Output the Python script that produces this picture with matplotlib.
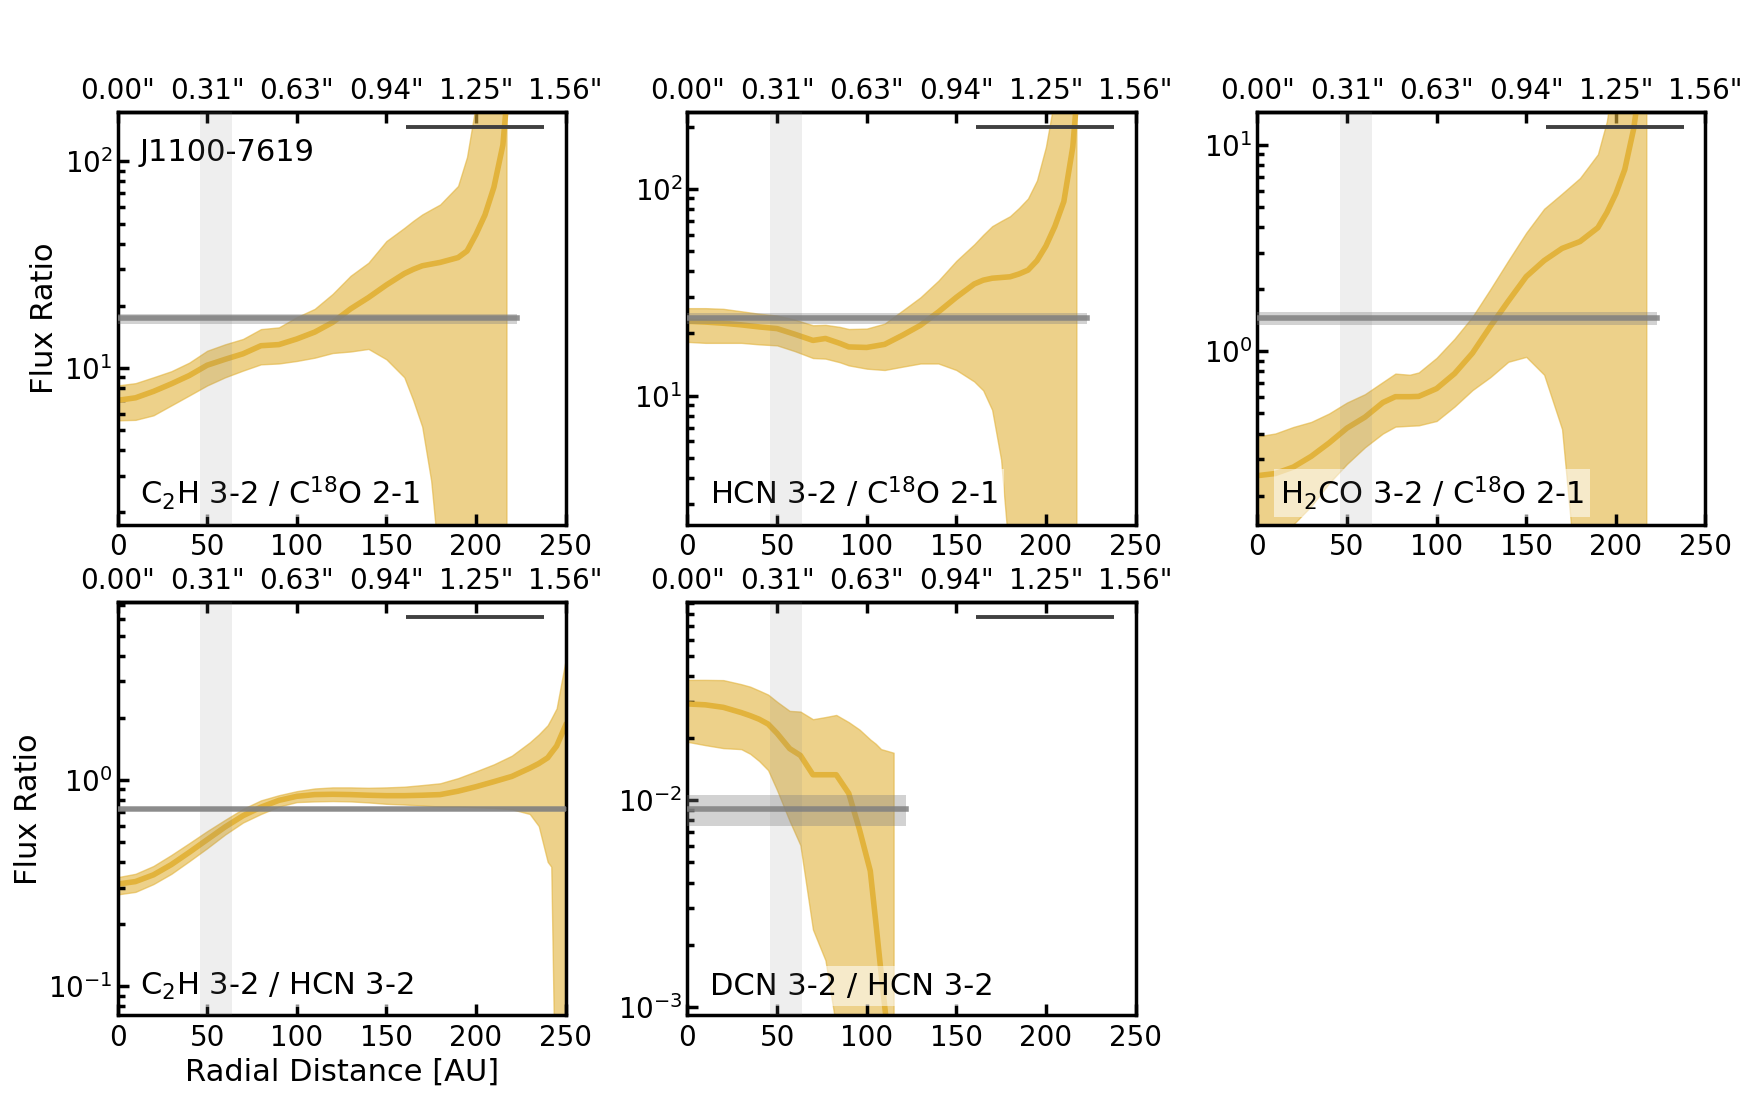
"""Radial flux-ratio profiles for J1100-7619 (five line ratios)."""

import matplotlib
matplotlib.use("Agg")

import matplotlib.pyplot as plt
import matplotlib.transforms as mtransforms
import numpy as np

plt.rcParams.update(
    {
        "font.family": "DejaVu Sans",
        "font.size": 20,
        "axes.labelsize": 22,
        "axes.linewidth": 2.5,
        "xtick.direction": "in",
        "ytick.direction": "in",
        "xtick.major.width": 2.5,
        "ytick.major.width": 2.5,
        "ytick.minor.width": 2.5,
        "xtick.major.size": 8,
        "ytick.major.size": 8,
        "ytick.minor.size": 5,
    }
)

# ---------------------------------------------------------------------------
# Data (radius in AU, ratio profile + 1-sigma envelope)
# ---------------------------------------------------------------------------
SOURCE = "J1100-7619"

# C2H 3-2 / C18O 2-1
r_c2h_c18o = [0, 10, 20, 30, 40, 50, 60, 70, 80, 90, 100, 110, 120, 130, 140,
              150, 160, 165, 170, 175, 180, 190, 195, 200, 205, 210, 215, 217]
m_c2h_c18o = [6.96, 7.16, 7.69, 8.37, 9.18, 10.3, 11.0, 11.7, 12.8, 12.96, 13.8,
              14.9, 16.6, 19.3, 21.9, 25.2, 28.6, 30.0, 31.2, 31.8, 32.4, 34.2,
              36.8, 44.3, 55.0, 75.0, 120.0, 190.0]
hi_c2h_c18o = [8.22, 8.43, 9.0, 9.63, 10.6, 12.1, 13.0, 13.8, 15.4, 15.7, 17.6,
               19.3, 22.8, 27.9, 32.3, 41.1, 47.6, 51.5, 55.3, 58.5, 61.8, 76.0,
               105.0, 190.0, 320.0, 500.0, 800.0, 1000.0]
lo_c2h_c18o = [5.57, 5.6, 5.89, 6.58, 7.35, 8.22, 9.0, 9.7, 10.4, 10.5, 10.8,
               11.2, 11.8, 12.0, 12.35, 11.0, 9.0, 6.96, 5.19, 2.84, 1.0, 0.5,
               0.3, 0.2, 0.1, 0.1, 0.1, 0.1]

# HCN 3-2 / C18O 2-1
r_hcn_c18o = [0, 10, 20, 30, 40, 50, 60, 70, 77, 85, 90, 100, 110, 120, 130,
              140, 150, 160, 165, 170, 175, 180, 185, 190, 195, 200, 205, 210,
              215, 217]
m_hcn_c18o = [22.9, 22.7, 22.4, 22.0, 21.5, 21.1, 19.8, 18.5, 18.9, 17.9, 17.2,
              17.1, 17.7, 19.6, 21.9, 25.4, 29.9, 34.7, 36.2, 37.0, 37.3, 37.6,
              38.8, 40.5, 45.0, 53.0, 66.0, 87.0, 160.0, 260.0]
hi_hcn_c18o = [26.5, 26.5, 26.3, 25.6, 24.9, 24.4, 23.3, 21.9, 22.0, 21.5, 21.0,
               21.1, 22.3, 25.8, 29.9, 36.0, 44.9, 54.0, 60.0, 66.1, 70.0, 73.9,
               81.0, 90.0, 110.0, 160.0, 280.0, 450.0, 700.0, 900.0]
lo_hcn_c18o = [18.2, 18.0, 18.0, 18.0, 17.7, 17.5, 16.4, 15.2, 15.1, 14.5, 14.0,
               13.5, 13.3, 13.8, 14.3, 14.3, 13.3, 11.7, 10.6, 8.53, 4.9, 1.5,
               1.0, 0.8, 0.6, 0.5, 0.4, 0.3, 0.3, 0.3]

# H2CO 3-2 / C18O 2-1
r_h2co_c18o = [0, 10, 20, 30, 40, 50, 60, 70, 77, 85, 90, 100, 110, 120, 130,
               140, 150, 160, 170, 180, 190, 195, 200, 205, 210, 215, 217]
m_h2co_c18o = [0.25, 0.256, 0.275, 0.31, 0.36, 0.425, 0.48, 0.565, 0.603, 0.603,
               0.605, 0.66, 0.78, 0.98, 1.32, 1.75, 2.3, 2.75, 3.15, 3.4, 3.97,
               4.7, 5.8, 7.6, 12.0, 25.0, 40.0]
hi_h2co_c18o = [0.387, 0.40, 0.43, 0.455, 0.50, 0.565, 0.62, 0.71, 0.78, 0.77,
                0.79, 0.93, 1.15, 1.47, 2.0, 2.75, 3.75, 4.9, 5.8, 6.9, 9.0,
                13.0, 25.0, 40.0, 60.0, 80.0, 100.0]
lo_h2co_c18o = [0.11, 0.125, 0.145, 0.178, 0.23, 0.285, 0.343, 0.40, 0.432,
                0.436, 0.438, 0.46, 0.54, 0.649, 0.75, 0.89, 0.94, 0.77, 0.42,
                0.05, 0.02, 0.02, 0.02, 0.02, 0.02, 0.02, 0.02]

# C2H 3-2 / HCN 3-2
r_c2h_hcn = [0, 10, 20, 30, 40, 50, 60, 70, 80, 90, 100, 110, 120, 130, 140,
             150, 160, 170, 180, 190, 200, 210, 220, 230, 235, 240, 242, 245,
             250]
m_c2h_hcn = [0.313, 0.322, 0.347, 0.389, 0.446, 0.514, 0.592, 0.671, 0.738,
             0.796, 0.833, 0.849, 0.852, 0.849, 0.843, 0.839, 0.839, 0.843,
             0.849, 0.882, 0.927, 0.981, 1.04, 1.14, 1.20, 1.28, 1.35, 1.46,
             1.84]
hi_c2h_hcn = [0.338, 0.351, 0.383, 0.433, 0.494, 0.565, 0.641, 0.724, 0.796,
              0.843, 0.882, 0.909, 0.92, 0.92, 0.916, 0.92, 0.927, 0.944, 0.963,
              1.02, 1.10, 1.19, 1.31, 1.52, 1.66, 1.84, 1.98, 2.22, 3.79]
lo_c2h_hcn = [0.279, 0.287, 0.313, 0.351, 0.404, 0.467, 0.544, 0.622, 0.684,
              0.743, 0.781, 0.787, 0.79, 0.787, 0.778, 0.766, 0.76, 0.752, 0.743,
              0.743, 0.738, 0.732, 0.721, 0.684, 0.598, 0.401, 0.38, 0.01, 0.01]

# DCN 3-2 / HCN 3-2
r_dcn_hcn = [0, 10, 20, 30, 35, 40, 45, 50, 57, 63, 70, 77, 83, 90, 96, 102,
             105, 108, 112, 115]
m_dcn_hcn = [0.0293, 0.0290, 0.0282, 0.0266, 0.0257, 0.0247, 0.0234, 0.0211,
             0.0178, 0.0165, 0.0133, 0.0133, 0.0133, 0.0108, 0.0072, 0.00455,
             0.00261, 0.00147, 0.0007, 0.0004]
hi_dcn_hcn = [0.0383, 0.0383, 0.0382, 0.0365, 0.0355, 0.0340, 0.0325, 0.0300,
              0.0271, 0.0269, 0.0247, 0.0253, 0.0259, 0.0239, 0.0220, 0.0197,
              0.0188, 0.0177, 0.0173, 0.0170]
lo_dcn_hcn = [0.0192, 0.0185, 0.0179, 0.0177, 0.0168, 0.0155, 0.0140, 0.0112,
              0.00794, 0.00607, 0.00237, 0.00168, 0.0008, 0.0004, 0.0003,
              0.0003, 0.0003, 0.0003, 0.0003, 0.0003]

LABELS = [
    r"C$_2$H 3-2 / C$^{18}$O 2-1",
    r"HCN 3-2 / C$^{18}$O 2-1",
    r"H$_2$CO 3-2 / C$^{18}$O 2-1",
    r"C$_2$H 3-2 / HCN 3-2",
    r"DCN 3-2 / HCN 3-2",
]

# Disk-integrated ratio, its uncertainty band and radial extent [AU]
INT_RATIO = [17.4, 23.7, 1.447, 0.724, 0.00909]
INT_LO = [16.3, 22.3, 1.345, 0.71, 0.00747]
INT_HI = [18.2, 25.1, 1.545, 0.74, 0.01067]
INT_EXTENT = [223, 223, 223, 260, 122]

GAP_AU = (46, 64)            # shaded gap region
BEAM_AU = (161, 238)         # beam bar
X_TICKS = [0, 50, 100, 150, 200, 250]
ARCSEC_LABELS = ['0.00"', '0.31"', '0.63"', '0.94"', '1.25"', '1.56"']

profiles = [
    (r_c2h_c18o, m_c2h_c18o, lo_c2h_c18o, hi_c2h_c18o),
    (r_hcn_c18o, m_hcn_c18o, lo_hcn_c18o, hi_hcn_c18o),
    (r_h2co_c18o, m_h2co_c18o, lo_h2co_c18o, hi_h2co_c18o),
    (r_c2h_hcn, m_c2h_hcn, lo_c2h_hcn, hi_c2h_hcn),
    (r_dcn_hcn, m_dcn_hcn, lo_dcn_hcn, hi_dcn_hcn),
]

GOLD = "#E2B33C"
TEXT_SIZE = 22

# ---------------------------------------------------------------------------
# Figure
# ---------------------------------------------------------------------------
fig, axes = plt.subplots(2, 3, figsize=(17.6, 11.0), dpi=100)
fig.subplots_adjust(left=0.0668, right=0.969, top=0.8985, bottom=0.0769,
                    wspace=0.272, hspace=0.188)
axes = axes.ravel()
axes[5].remove()

for i, (r, m, lo, hi) in enumerate(profiles):
    ax = axes[i]
    r = np.asarray(r, float)

    ax.fill_between(r, lo, hi, color=GOLD, alpha=0.6, zorder=1)
    ax.plot(r, m, color=GOLD, lw=4, zorder=2)

    xr = [0, INT_EXTENT[i]]
    ax.fill_between(xr, INT_LO[i], INT_HI[i], color="gray", alpha=0.35,
                    lw=0, zorder=3)
    ax.plot(xr, [INT_RATIO[i]] * 2, color="gray", lw=4, alpha=0.85, zorder=3)

    ax.axvspan(*GAP_AU, color="gray", alpha=0.13, lw=0, zorder=5)

    trans = mtransforms.blended_transform_factory(ax.transData, ax.transAxes)
    ax.plot(BEAM_AU, [0.964, 0.964], color="#404040", lw=2.8, transform=trans,
            solid_capstyle="butt", zorder=4)

    ax.set_yscale("log")
    ax.set_ylim(INT_RATIO[i] / 10, INT_RATIO[i] * 10)
    ax.set_xlim(0, 250)
    ax.set_xticks(X_TICKS)
    ax.tick_params(axis="x", which="both", bottom=True, top=False, pad=6)
    ax.tick_params(axis="y", which="both", left=True, right=False)

    sec = ax.secondary_xaxis("top")
    sec.set_xticks(X_TICKS)
    sec.set_xticklabels(ARCSEC_LABELS)
    sec.tick_params(direction="in", length=8, width=2.5, pad=5)

    ax.text(0.05, 0.05, LABELS[i], transform=ax.transAxes, zorder=3,
            fontsize=TEXT_SIZE,
            bbox=dict(facecolor="white", alpha=0.55, edgecolor="none"))

    if i in (0, 3):
        ax.set_ylabel("Flux Ratio")

axes[0].text(0.05, 0.88, SOURCE, transform=axes[0].transAxes,
             fontsize=TEXT_SIZE)
axes[3].set_xlabel("Radial Distance [AU]")

fig.savefig("out.png", dpi=100)
plt.close(fig)
